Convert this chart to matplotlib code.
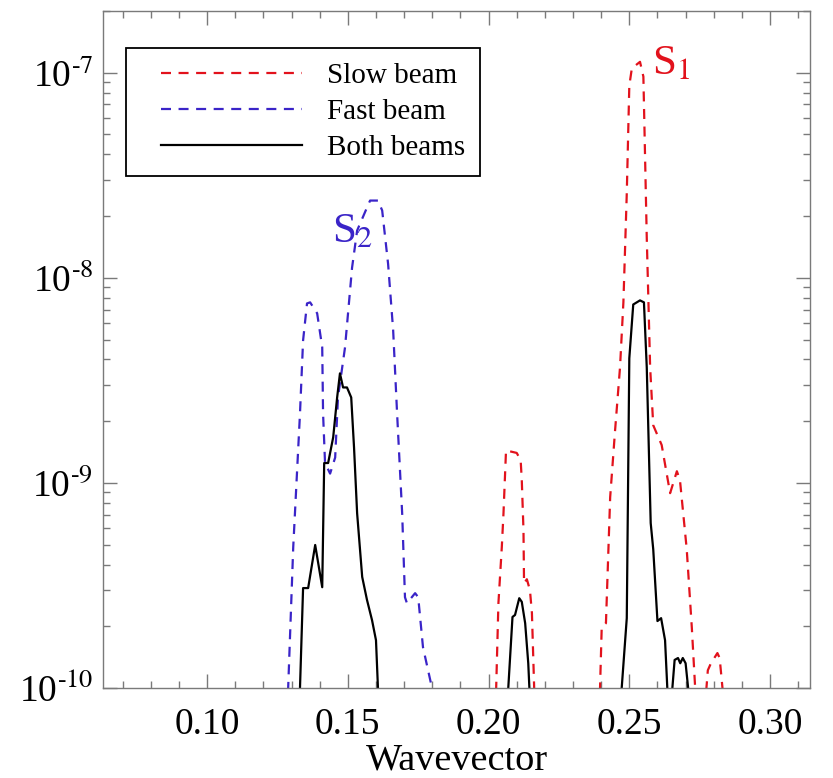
import numpy as np
import matplotlib
matplotlib.use("Agg")
import matplotlib.pyplot as plt
from matplotlib.ticker import MultipleLocator, LogLocator, FuncFormatter, NullFormatter, FixedLocator
from matplotlib.legend_handler import HandlerLine2D

plt.rcParams['font.family'] = ['Liberation Serif', 'DejaVu Serif']
plt.rcParams['mathtext.fontset'] = 'stix'

# ---------------- data ----------------
slow_x = [0.1950, 0.2027, 0.2035, 0.2047, 0.2053, 0.2062, 0.2100, 0.2114, 0.2118, 0.2124,
          0.2126, 0.2136, 0.2147, 0.2154, 0.2162, 0.2280,
          0.2396, 0.2402, 0.2417, 0.2432, 0.2449, 0.2467, 0.2479, 0.2491, 0.2500, 0.2509,
          0.2538, 0.2550, 0.2562, 0.2574, 0.2585, 0.2615, 0.2645, 0.2669, 0.2680, 0.2704,
          0.2722, 0.2734, 0.2754,
          0.2774, 0.2779, 0.2790, 0.2813, 0.2821, 0.2831, 0.2900]
slow_y = [1e-11, 1.0e-10, 2.59e-10, 4.86e-10, 7.11e-10, 1.44e-9, 1.40e-9, 1.29e-9, 1.03e-9, 5.89e-10,
          3.24e-10, 3.39e-10, 3.00e-10, 2.32e-10, 1.0e-10, 1e-11,
          1.0e-10, 1.98e-10, 2.07e-10, 8.51e-10, 1.77e-9, 3.66e-9, 7.59e-9, 2.58e-8, 8.65e-8, 1.05e-7,
          1.13e-7, 9.57e-8, 1.57e-8, 3.66e-9, 1.91e-9, 1.53e-9, 8.91e-10, 1.14e-9, 1.03e-9, 4.75e-10,
          1.98e-10, 1.0e-10, 1e-11,
          1.0e-10, 1.22e-10, 1.32e-10, 1.48e-10, 1.40e-10, 1.0e-10, 1e-11]

fast_x = [0.1200, 0.1288, 0.1306, 0.1330, 0.1341, 0.1355, 0.1366, 0.1391, 0.1409, 0.1412,
          0.1419, 0.1437, 0.1455, 0.1465, 0.1490, 0.1515, 0.1533, 0.1568, 0.1579, 0.1607,
          0.1622, 0.1643, 0.1661, 0.1675, 0.1693, 0.1703, 0.1710, 0.1739, 0.1750, 0.1767,
          0.1799, 0.1900]
fast_y = [1e-11, 1.0e-10, 4.86e-10, 2.18e-9, 4.95e-9, 7.50e-9, 7.59e-9, 6.71e-9, 4.58e-9, 2.18e-9,
          1.25e-9, 1.11e-9, 1.33e-9, 2.61e-9, 4.58e-9, 1.12e-8, 1.70e-8, 2.20e-8, 2.38e-8, 2.38e-8,
          2.13e-8, 1.17e-8, 5.55e-9, 2.18e-9, 7.11e-10, 2.77e-10, 2.59e-10, 2.90e-10, 2.77e-10, 1.58e-10,
          1.0e-10, 1e-11]

both_x = [0.1250, 0.1330, 0.1341, 0.1359, 0.1384, 0.1409, 0.1416, 0.1430, 0.1448, 0.1462,
          0.1472, 0.1483, 0.1497, 0.1512, 0.1522, 0.1533, 0.1551, 0.1568, 0.1586, 0.1600,
          0.1607, 0.1800,
          0.2070, 0.2085, 0.2094, 0.2109, 0.2118, 0.2130, 0.2141, 0.2145, 0.2300,
          0.2473, 0.2491, 0.2500, 0.2514, 0.2538, 0.2552, 0.2562, 0.2576, 0.2585, 0.2600,
          0.2613, 0.2627, 0.2635, 0.2644,
          0.2653, 0.2661, 0.2673, 0.2681, 0.2690, 0.2700, 0.2709, 0.2800]
both_y = [1e-11, 1.0e-10, 3.07e-10, 3.07e-10, 4.98e-10, 3.10e-10, 1.25e-9, 1.25e-9, 1.67e-9, 2.61e-9,
          3.42e-9, 2.92e-9, 2.92e-9, 2.61e-9, 1.49e-9, 7.11e-10, 3.48e-10, 2.69e-10, 2.14e-10, 1.71e-10,
          1.0e-10, 1e-11,
          1.0e-10, 2.22e-10, 2.27e-10, 2.74e-10, 2.63e-10, 2.07e-10, 1.32e-10, 1.0e-10, 1e-11,
          1.0e-10, 2.19e-10, 4.05e-9, 7.41e-9, 7.76e-9, 7.59e-9, 3.66e-9, 6.37e-10, 4.75e-10, 2.12e-10,
          2.19e-10, 1.71e-10, 1.0e-10, 5e-11,
          1.0e-10, 1.37e-10, 1.40e-10, 1.32e-10, 1.40e-10, 1.32e-10, 1.0e-10, 1e-11]

series_labels = ["Slow beam", "Fast beam", "Both beams"]
xticks_major = [0.10, 0.15, 0.20, 0.25, 0.30]
yticks_major = [1e-10, 1e-9, 1e-8, 1e-7]

RED = '#e2121c'
BLUE = '#3a24c8'
GRAY = '#7a7a7a'

# ---------------- figure ----------------
fig = plt.figure(figsize=(8.33, 7.78), dpi=100)
ax = fig.add_axes([0.1236, 0.1157, 0.8488, 0.8702])

dash = (0, (4.5, 3.4))
l1, = ax.plot(slow_x, slow_y, color=RED, lw=1.6, linestyle=dash, label=series_labels[0])
l2, = ax.plot(fast_x, fast_y, color=BLUE, lw=1.6, linestyle=dash, label=series_labels[1])
l3, = ax.plot(both_x, both_y, color='black', lw=1.6, linestyle='-', label=series_labels[2])

ax.set_yscale('log')
ax.set_xlim(0.063, 0.3142)
ax.set_ylim(1e-10, 2e-7)

ax.xaxis.set_major_locator(FixedLocator(xticks_major))
ax.xaxis.set_major_formatter(FuncFormatter(lambda v, p: f"{v:.2f}"))
ax.xaxis.set_minor_locator(MultipleLocator(0.01))
ax.yaxis.set_major_locator(FixedLocator(yticks_major))
ax.yaxis.set_minor_locator(LogLocator(base=10, subs=np.arange(2, 10)))
ax.yaxis.set_minor_formatter(NullFormatter())
ax.yaxis.set_major_formatter(
    FuncFormatter(lambda v, p: r"10$^{\text{-%d}}$" % abs(int(round(np.log10(v))))))

for s in ax.spines.values():
    s.set_color(GRAY)
    s.set_linewidth(1.0)

ax.tick_params(which='both', direction='in', top=True, right=True, color=GRAY,
               labelcolor='black', labelsize=27, width=1.0)
ax.tick_params(which='major', length=10)
ax.tick_params(which='minor', length=5)
ax.tick_params(axis='x', which='major', pad=14)
ax.tick_params(axis='y', which='major', pad=7)

ax.set_xlabel("Wavevector", fontsize=27.5, labelpad=1)

ax.text(0.2581, 9.8e-8, r"S$_1$", color=RED, fontsize=31, ha='left', va='baseline')
ax.text(0.1444, 1.485e-8, r"S$_2$", color=BLUE, fontsize=31, ha='left', va='baseline')


class OffsetLine(HandlerLine2D):
    def __init__(self, offset, **kw):
        super().__init__(**kw)
        self._off = offset

    def get_xdata(self, legend, xdescent, ydescent, width, height, fontsize):
        xd = np.array([-xdescent + self._off, width - xdescent])
        return xd, xd


hmap = {h: OffsetLine(15) for h in (l1, l2, l3)}
leg = ax.legend(handles=[l1, l2, l3], loc='upper left', bbox_to_anchor=(0.0325, 0.945),
                borderaxespad=0, fontsize=21, handlelength=5.55, handletextpad=0.86,
                borderpad=0.5, labelspacing=0.33, frameon=True, fancybox=False,
                handler_map=hmap)
fr = leg.get_frame()
fr.set_edgecolor('black')
fr.set_linewidth(1.3)
fr.set_alpha(1)

fig.savefig("out.png", dpi=100)
